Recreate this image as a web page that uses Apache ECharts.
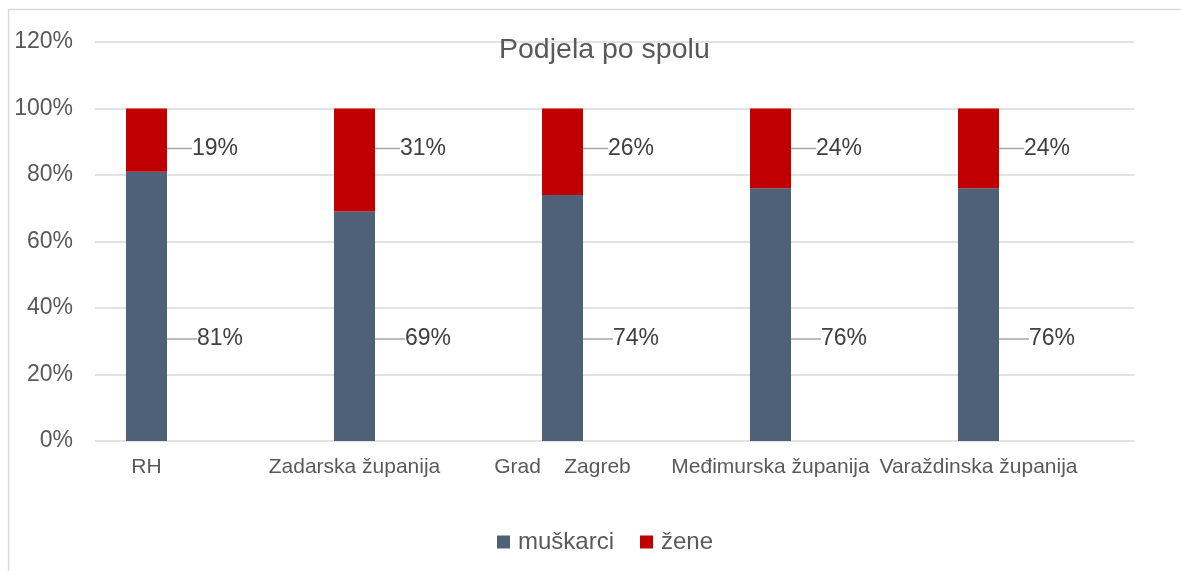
<!DOCTYPE html>
<html>
<head>
<meta charset="utf-8">
<script src="https://cdn.jsdelivr.net/npm/echarts@6/dist/echarts.min.js"></script>
<style>
  html, body { margin: 0; padding: 0; background: #fff; }
  #chart { width: 1181px; height: 571px; }
</style>
</head>
<body>
<div id="chart"></div>
<script>
// podaci
var categories = ['RH', 'Zadarska županija', 'Grad    Zagreb', 'Međimurska županija', 'Varaždinska županija']
var muskarci = [81, 69, 74, 76, 76]
var zene = [19, 31, 26, 24, 24]
var yTicks = [0, 20, 40, 60, 80, 100, 120]

var textGray = '#595959'
var fontFam = 'Liberation Sans, Arial, sans-serif'

var chart = echarts.init(document.getElementById('chart'))

var option = {
  animation: false,
  textStyle: { fontFamily: fontFam },
  color: ['#4f6079', '#c00000'],
  title: {
    text: 'Podjela po spolu',
    left: 494,
    top: 31,
    textStyle: { fontSize: 28.5, fontWeight: 'normal', color: textGray, fontFamily: fontFam }
  },
  legend: {
    data: ['muškarci', 'žene'],
    bottom: 12,
    left: 492,
    icon: 'rect',
    itemWidth: 13,
    itemHeight: 13,
    itemGap: 26,
    textStyle: { fontSize: 24, color: textGray, fontFamily: fontFam, padding: [0, 0, 0, 3] }
  },
  graphic: [{
    type: 'rect',
    shape: { x: 8.5, y: 9.5, width: 1300, height: 700 },
    style: { fill: 'none', stroke: '#d9d9d9', lineWidth: 1.5 },
    silent: true
  }],
  grid: [
    { left: 42.5, right: 98.5, top: 42, bottom: 130 },
    { left: 95, right: 47, top: 42, bottom: 130 }
  ],
  xAxis: [
    {
      type: 'category',
      gridIndex: 0,
      data: categories,
      axisLine: { show: false },
      axisTick: { show: false },
      axisLabel: { fontSize: 21, color: textGray, margin: 16, interval: 0, fontFamily: fontFam }
    },
    { type: 'value', gridIndex: 1, show: false, min: 0, max: 1 }
  ],
  yAxis: [
    { type: 'value', gridIndex: 0, min: 0, max: 120, show: false },
    {
      type: 'value',
      gridIndex: 1,
      min: yTicks[0],
      max: yTicks[yTicks.length - 1],
      interval: 20,
      axisLine: { show: false },
      axisTick: { show: false },
      axisLabel: {
        fontSize: 23, color: textGray, margin: 22, fontFamily: fontFam,
        formatter: function(v) { return v + '%' }
      },
      splitLine: { lineStyle: { color: '#d9d9d9', width: 1.5 } }
    }
  ],
  series: [
    {
      name: 'muškarci',
      type: 'bar',
      stack: 'spol',
      xAxisIndex: 0,
      yAxisIndex: 0,
      barWidth: 41,
      data: muskarci,
      label: {
        show: true,
        position: 'right',
        fontSize: 23,
        color: '#404040',
        padding: [0, 0, 0, 7],
        formatter: '{c}%'
      },
      // oznake muškaraca stoje otprilike na istoj visini (ispod sredine stupca)
      labelLayout: function(params) {
        var r = params.rect
        return {
          x: r.x + r.width + 23,
          y: r.y + r.height - 102,
          align: 'left',
          verticalAlign: 'middle'
        }
      },
      labelLine: { show: true, lineStyle: { color: '#a6a6a6', width: 1.5 } }
    },
    {
      name: 'žene',
      type: 'bar',
      stack: 'spol',
      xAxisIndex: 0,
      yAxisIndex: 0,
      barWidth: 41,
      data: zene,
      label: {
        show: true,
        position: 'right',
        fontSize: 23,
        color: '#404040',
        padding: [0, 0, 0, 7],
        formatter: '{c}%'
      },
      labelLayout: function(params) {
        var r = params.rect
        return {
          x: r.x + r.width + 18,
          y: r.y + 40,
          align: 'left',
          verticalAlign: 'middle'
        }
      },
      labelLine: { show: true, lineStyle: { color: '#a6a6a6', width: 1.5 } }
    }
  ]
}

chart.setOption(option)
</script>
</body>
</html>
